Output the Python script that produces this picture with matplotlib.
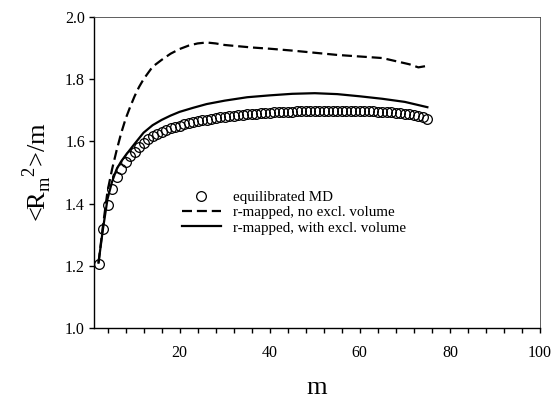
import matplotlib
matplotlib.use('Agg')
import matplotlib.pyplot as plt
from matplotlib.ticker import MultipleLocator

plt.rcParams['font.family'] = ['Liberation Serif', 'DejaVu Serif']
plt.rcParams['mathtext.fontset'] = 'custom'
plt.rcParams['mathtext.rm'] = 'Liberation Serif'

# equilibrated MD, m = 2..75
m_md = list(range(2, 76))
r_md = [1.207, 1.318, 1.395, 1.447, 1.485, 1.512, 1.534, 1.552, 1.567, 1.583,
        1.596, 1.607, 1.617, 1.625, 1.631, 1.637, 1.642, 1.647, 1.651, 1.655,
        1.659, 1.662, 1.665, 1.668, 1.670, 1.673, 1.675, 1.677, 1.679, 1.681,
        1.683, 1.684, 1.686, 1.687, 1.688, 1.689, 1.690, 1.691, 1.692, 1.693,
        1.694, 1.695, 1.695, 1.696, 1.697, 1.697, 1.698, 1.698, 1.698, 1.699,
        1.699, 1.699, 1.699, 1.699, 1.699, 1.699, 1.699, 1.698, 1.698, 1.698,
        1.697, 1.697, 1.696, 1.695, 1.694, 1.693, 1.692, 1.690, 1.689, 1.687,
        1.685, 1.682, 1.678, 1.672]

# r-mapped, no excl. volume
m_no = [2, 3, 4, 5, 6, 7, 8, 9, 10, 11, 12, 14, 16, 18, 20, 22, 24, 26, 28, 30,
        33, 36, 40, 45, 50, 55, 60, 65, 68, 71, 73, 75]
r_no = [1.21, 1.33, 1.44, 1.51, 1.57, 1.625, 1.672, 1.71, 1.745, 1.775, 1.80,
        1.84, 1.862, 1.882, 1.897, 1.908, 1.915, 1.918, 1.915, 1.91,
        1.906, 1.902, 1.898, 1.892, 1.885, 1.878, 1.873, 1.868, 1.858, 1.848,
        1.838, 1.843]

# r-mapped, with excl. volume
m_ex = [2, 3, 4, 5, 6, 7, 8, 10, 12, 14, 16, 18, 20, 23, 26, 30, 35, 40, 45,
        50, 55, 60, 65, 70, 75]
r_ex = [1.21, 1.32, 1.415, 1.47, 1.51, 1.535, 1.555, 1.592, 1.628, 1.652,
        1.669, 1.683, 1.695, 1.708, 1.72, 1.731, 1.742, 1.748, 1.753,
        1.755, 1.752, 1.745, 1.737, 1.727, 1.710]

fig = plt.figure(figsize=(5.54, 3.98), dpi=100)
ax = fig.add_axes([0.1697, 0.1759, 0.805, 0.7814])

ax.plot(m_md, r_md, 'o', mfc='none', mec='black', ms=7.0, mew=0.9,
        label='equilibrated MD')
ax.plot(m_no, r_no, color='black', lw=1.6, dashes=(4.5, 2.2),
        label='r-mapped, no excl. volume')
ax.plot(m_ex, r_ex, color='black', lw=1.6,
        label='r-mapped, with excl. volume')

ax.set_xlim(1, 100)
ax.set_ylim(1.0, 2.0)
ax.xaxis.set_major_locator(MultipleLocator(20))
ax.xaxis.set_minor_locator(MultipleLocator(4))
ax.yaxis.set_major_locator(MultipleLocator(0.2))
ax.yaxis.set_major_formatter(plt.FormatStrFormatter('%.1f'))
ax.tick_params(which='both', direction='out', length=3.5, width=1,
               labelsize=11.5, color='black')
ax.tick_params(axis='y', pad=3)
ax.tick_params(axis='x', pad=9)
for s in ['top', 'right']:
    ax.spines[s].set_linewidth(0.6)
    ax.spines[s].set_color('#444444')
for s in ['left', 'bottom']:
    ax.spines[s].set_linewidth(1.0)

ax.set_xlabel('m', fontsize=19, labelpad=11)
ax.set_ylabel(r'<R$_{\mathrm{m}}$$^{2}$>/m', fontsize=19, labelpad=8)

ax.legend(loc='center left', bbox_to_anchor=(0.197, 0.371), frameon=False,
          fontsize=10.8, handlelength=2.6, handletextpad=0.8,
          borderpad=0, borderaxespad=0, labelspacing=0.12)

fig.savefig('out.png', dpi=100)
